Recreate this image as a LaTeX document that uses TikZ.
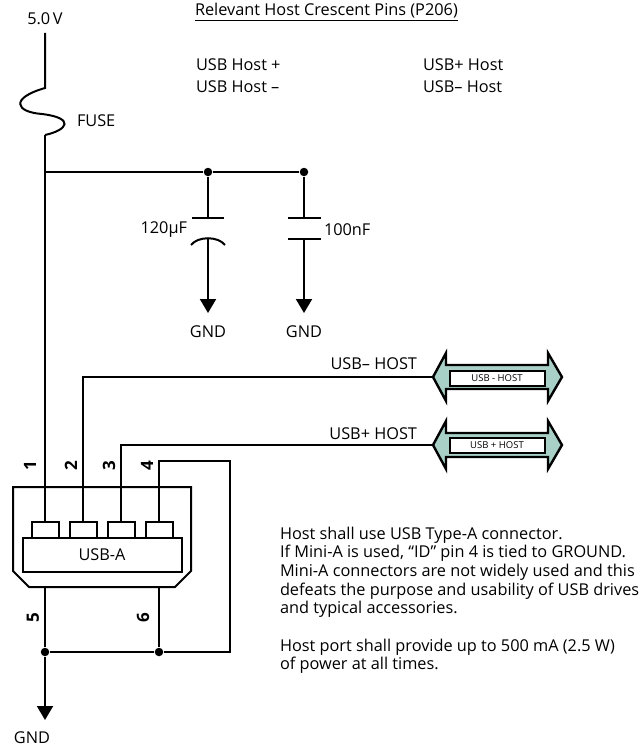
\documentclass[tikz,border=0pt]{standalone}
\usepackage{fontspec}
\setmainfont{Open Sans}
\usetikzlibrary{arrows.meta}
\definecolor{busfill}{RGB}{168,208,198}

\begin{document}
\begin{tikzpicture}[x=1pt, y=-1pt, line width=2pt,
    lbl/.style={inner sep=0pt, font=\fontsize{16.3}{18.6}\selectfont},
    pinlbl/.style={inner sep=0pt, rotate=90, font=\fontsize{17}{18}\selectfont\bfseries},
    pinbox/.style={draw, minimum width=27pt, minimum height=16pt, inner sep=0pt},
    dot/.style={circle, fill, inner sep=0pt, minimum size=8.5pt},
    gnd/.style={-{Triangle[width=16pt,length=14pt]}},
    busbox/.style={draw, fill=white, minimum width=95pt, minimum height=15pt, inner sep=0pt,
        font=\fontsize{9.5}{10}\selectfont}]
    \useasboundingbox (0,0) rectangle (641,752);

    % Draw supply and fuse
    \node[lbl] (vcclbl) at (45,19) {5.0\,V};
    \coordinate (vcc) at (45,33);
    \coordinate (fusetop) at (45,88);
    \coordinate (fusebot) at (45,135);
    \node[lbl, anchor=west] (fuselbl) at (76,121) {FUSE};
    \draw (vcc) -- (fusetop)
        .. controls (10,98) and (15,112) .. (42,114)
        .. controls (75,118) and (68,130) .. (fusebot);

    % Draw supply bus and capacitors
    \coordinate (bus) at (45,172);
    \node[dot] (j1) at (208,172) {};
    \node[dot] (j2) at (304,172) {};
    \draw (bus) -- (j1) -- (j2);

    \draw (j1) -- (208,218);
    \draw (192,218) -- (224,218);
    \draw (191,245) .. controls (198,236) and (218,236) .. (225,245);
    \coordinate (c1bot) at (208,239);
    \coordinate (g1) at (208,313);
    \draw[gnd] (c1bot) -- (g1);
    \node[lbl, anchor=east] (c1lbl) at (188,230) {120µF};
    \node[lbl] (g1lbl) at (208,332) {GND};

    \draw (j2) -- (304,218);
    \draw (288,218) -- (321,218);
    \draw (288,239) -- (321,239);
    \coordinate (c2bot) at (304,239);
    \coordinate (g2) at (304,313);
    \draw[gnd] (c2bot) -- (g2);
    \node[lbl, anchor=west] (c2lbl) at (323,230) {100nF};
    \node[lbl] (g2lbl) at (304,332) {GND};

    % Draw USB-A connector
    \draw (13,487) -- (191,487) -- (191,571) -- (175,587) -- (29,587) -- (13,571) -- cycle;
    \node[draw, minimum width=159pt, minimum height=34pt, inner sep=0pt,
        font=\fontsize{16.3}{18}\selectfont] (usba) at (102,555) {USB-A};
    \node[pinbox] (p1) at (45,530) {};
    \node[pinbox] (p2) at (83,530) {};
    \node[pinbox] (p3) at (121,530) {};
    \node[pinbox] (p4) at (159,530) {};
    \node[pinlbl] (n1) at (30,466) {1};
    \node[pinlbl] (n2) at (71,466) {2};
    \node[pinlbl] (n3) at (109,466) {3};
    \node[pinlbl] (n4) at (147,466) {4};
    \node[pinlbl] (n5) at (33,618) {5};
    \node[pinlbl] (n6) at (143,618) {6};

    % Draw data lines
    \coordinate (minustip) at (433,377);
    \coordinate (plustip) at (433,445);
    \draw (fusebot) -- (bus) -- (p1.north);
    \draw (p2.north) |- (minustip);
    \draw (p3.north) |- (plustip);
    \node[lbl, anchor=east] (minuslbl) at (418,364) {USB– HOST};
    \node[lbl, anchor=east] (pluslbl) at (418,434) {USB+ HOST};

    \draw[fill=busfill, line width=2.4pt] (433,377) -- (446,353) -- (446,365) -- (548,365) -- (548,353) -- (562,377)
        -- (548,401) -- (548,389) -- (446,389) -- (446,401) -- cycle;
    \node[busbox] (minusbox) at (497,378) {USB - HOST};
    \draw[fill=busfill, line width=2.4pt] (433,445) -- (446,421) -- (446,433) -- (548,433) -- (548,421) -- (562,445)
        -- (548,469) -- (548,457) -- (446,457) -- (446,469) -- cycle;
    \node[busbox] (plusbox) at (497,445) {USB + HOST};

    % Draw ground return
    \coordinate (p5) at (45,587);
    \coordinate (p6) at (159,587);
    \coordinate (idtop) at (230,461);
    \coordinate (idbot) at (230,652);
    \node[dot] (j5) at (45,652) {};
    \node[dot] (j6) at (159,652) {};
    \draw (p4.north) |- (idtop) -- (idbot) -- (j6) -- (j5);
    \draw (p5) -- (j5);
    \draw (p6) -- (j6);
    \coordinate (g3) at (45,720);
    \draw[gnd] (j5) -- (g3);
    \node[lbl] (g3lbl) at (32,738) {GND};

    % Draw pin table
    \node[lbl, anchor=west] (title) at (194,12) {\underline{Relevant Host Crescent Pins (P206)}};
    \node[lbl, anchor=west] (hp) at (195,65) {USB Host +};
    \node[lbl, anchor=west] (hm) at (195,87) {USB Host –};
    \node[lbl, anchor=west] (pp) at (422,65) {USB+ Host};
    \node[lbl, anchor=west] (pm) at (422,87) {USB– Host};

    % Draw notes
    \node[lbl, anchor=north west, align=left] (note1) at (279,526)
        {Host shall use USB Type-A connector.\\
         If Mini-A is used, “ID” pin 4 is tied to GROUND.\\
         Mini-A connectors are not widely used and this\\
         defeats the purpose and usability of USB drives\\
         and typical accessories.};
    \node[lbl, anchor=north west, align=left] (note2) at (279,638)
        {Host port shall provide up to 500 mA (2.5 W)\\
         of power at all times.};
\end{tikzpicture}
\end{document}
